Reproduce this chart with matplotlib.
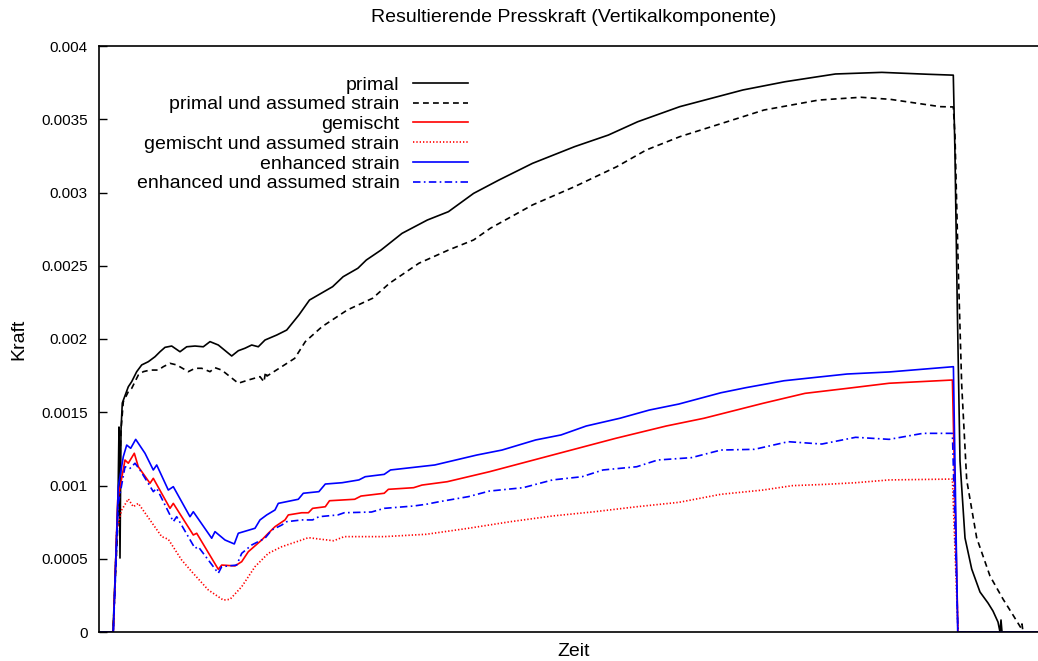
import numpy as np
import matplotlib
matplotlib.use("Agg")
import matplotlib.pyplot as plt
import matplotlib.ticker as ticker

plt.rcParams['font.family'] = ['Liberation Sans', 'DejaVu Sans']
plt.rcParams['font.size'] = 11

# Zeit in Zeitschritten, Kraft in N (Vertikalkomponente)
t_primal = [0, 14, 19, 20, 21, 22, 23.3, 29.3, 32.7, 37.7, 42.7, 49.3, 56, 61, 66, 72.7, 81, 87.7, 96,
            104.3, 111, 119.3, 132.7, 139.3, 146, 152.7, 159.3, 166, 177.7, 187.7, 199.9, 210.5, 233.6,
            244.1, 258.9, 267.3, 282, 303, 328.3, 349.4, 374.6, 399.9, 433.5, 475.6, 509.3, 538.7, 580.8,
            644, 686, 736.5, 782.8, 829.1, 854.3, 856, 858.3, 861, 866, 872.7, 881, 889, 894, 899, 901,
            902, 903, 950]
f_primal = [0, 0, 0.000901, 0.001399, 0.000505, 0.001379, 0.001563, 0.001674, 0.001709, 0.001777,
            0.001823, 0.001845, 0.001879, 0.001913, 0.001943, 0.001952, 0.001913, 0.001947, 0.001952,
            0.001947, 0.001982, 0.001959, 0.001884, 0.001920, 0.001937, 0.001959, 0.001947, 0.001993,
            0.002027, 0.002061, 0.002164, 0.002266, 0.002357, 0.002425, 0.002483, 0.002539, 0.002607,
            0.002721, 0.002812, 0.002869, 0.002994, 0.003085, 0.003199, 0.003313, 0.003392, 0.003483,
            0.003586, 0.003700, 0.003756, 0.003809, 0.003820, 0.003807, 0.003801, 0.003256, 0.002212,
            0.001167, 0.000642, 0.000430, 0.000273, 0.000198, 0.000143, 0.000068, 0, 0.000082, 0, 0]

t_primal_as = [0, 14, 19, 22, 24.3, 29.3, 32.7, 39.3, 44.3, 51, 59.3, 64.3, 71, 77.7, 89.3, 96, 102.7,
               111, 116, 122.7, 139.3, 149.3, 161, 165, 166.5, 168, 182.7, 195.7, 206.3, 223, 248.3,
               273.6, 290.4, 319.9, 349.4, 374.6, 391.4, 433.5, 475.6, 517.7, 547.2, 580.8, 622.9, 665,
               719.7, 761.8, 791.3, 841, 854.3, 856, 859.3, 862.7, 867.7, 877.7, 891, 904, 914, 922,
               923, 924, 950]
f_primal_as = [0, 0, 0.000765, 0.001379, 0.001572, 0.001640, 0.001663, 0.001754, 0.001777, 0.001788,
               0.001788, 0.001811, 0.001834, 0.001823, 0.001777, 0.001800, 0.001800, 0.001777, 0.001804,
               0.001788, 0.001698, 0.001720, 0.001743, 0.001707, 0.001775, 0.001747, 0.001811, 0.001868,
               0.001982, 0.002084, 0.002198, 0.002278, 0.002380, 0.002517, 0.002607, 0.002676, 0.002756,
               0.002915, 0.003040, 0.003176, 0.003290, 0.003381, 0.003472, 0.003563, 0.003631, 0.003650,
               0.003636, 0.003586, 0.003584, 0.003386, 0.002471, 0.001686, 0.001038, 0.000642, 0.000382,
               0.000225, 0.000116, 0.000027, 0.000055, 0, 0]

t_gemischt = [0, 14.3, 18.7, 26, 29.3, 35.3, 39.3, 51, 54.3, 71, 74.3, 94.3, 97.7, 119.3, 122.7, 136,
              142.7, 149.3, 162.7, 169.3, 176, 186, 189.3, 202.7, 209.4, 213.6, 226.3, 230.5, 255.7, 262,
              285.2, 289.4, 314.6, 323, 348.3, 390.4, 453.5, 516.7, 567.2, 605, 664, 706, 748.1, 790.2,
              853.4, 859, 950]
f_gemischt = [0, 0, 0.000901, 0.001174, 0.001152, 0.001220, 0.001128, 0.001015, 0.001049, 0.000844,
              0.000878, 0.000662, 0.000674, 0.000428, 0.000457, 0.000451, 0.000480, 0.000548, 0.000628,
              0.000674, 0.000719, 0.000765, 0.000799, 0.000814, 0.000814, 0.000844, 0.000855, 0.000896,
              0.000906, 0.000928, 0.000947, 0.000974, 0.000985, 0.001003, 0.001026, 0.001094, 0.001208,
              0.001322, 0.001406, 0.001459, 0.001561, 0.001629, 0.001663, 0.001698, 0.001720, 0, 0]

t_gemischt_as = [0, 14.3, 17.7, 22.7, 29.3, 34.3, 39.3, 62.7, 69.3, 82.7, 92.7, 109.3, 124.3, 131,
                 142.7, 156, 169.3, 182.7, 202.7, 209.4, 222, 234.7, 245.2, 285.2, 327.3, 369.4, 411.4,
                 453.5, 495.6, 537.7, 579.8, 621.9, 664, 693.4, 727.1, 756.6, 790.2, 853.4, 859, 950]
f_gemischt_as = [0, 0, 0.000696, 0.000833, 0.000908, 0.000855, 0.000878, 0.000651, 0.000633, 0.000491,
                 0.000412, 0.000287, 0.000218, 0.000223, 0.000309, 0.000446, 0.000537, 0.000582,
                 0.000628, 0.000644, 0.000633, 0.000623, 0.000651, 0.000651, 0.000667, 0.000708,
                 0.000753, 0.000792, 0.000821, 0.000855, 0.000885, 0.000940, 0.000969, 0.000999,
                 0.001008, 0.001019, 0.001038, 0.001044, 0, 0]

t_enhanced = [0, 14.3, 19.3, 24.3, 27.7, 31.7, 36.7, 46, 54.3, 57.7, 69.3, 74.3, 91, 94.3, 112.7, 116,
              126, 135.3, 139.3, 156, 161, 167.7, 176, 179.3, 199.3, 204.3, 219.9, 226.3, 243.1, 259.9,
              266.2, 285.2, 291.5, 335.7, 377.8, 403, 436.7, 462, 487.2, 520.9, 550.3, 579.8, 621.9,
              647.1, 685, 748.1, 790.2, 854.4, 858.7, 950]
f_enhanced = [0, 0, 0.000992, 0.001197, 0.001276, 0.001254, 0.001315, 0.001220, 0.001106, 0.001140,
              0.000969, 0.000992, 0.000787, 0.000821, 0.000640, 0.000685, 0.000628, 0.000601, 0.000674,
              0.000708, 0.000765, 0.000799, 0.000833, 0.000878, 0.000906, 0.000947, 0.000958, 0.001010,
              0.001019, 0.001038, 0.001060, 0.001076, 0.001106, 0.001140, 0.001208, 0.001242, 0.001311,
              0.001345, 0.001406, 0.001459, 0.001515, 0.001556, 0.001633, 0.001668, 0.001715, 0.001761,
              0.001775, 0.001811, 0, 0]

t_enhanced_as = [0, 14.3, 19.3, 26, 31, 36, 41, 54.3, 57.7, 74.3, 77.7, 96, 99.3, 119.3, 122.7, 137.7,
                 142.7, 152.7, 166, 172.7, 182.7, 187.7, 202.7, 213.6, 219.9, 238.9, 245.2, 272.5, 285.2,
                 314.6, 327.3, 339.9, 369.4, 390.4, 424.1, 453.5, 483, 504, 537.7, 558.7, 592.4, 621.9,
                 655.5, 689.2, 722.9, 756.6, 790.2, 823.9, 853.4, 859, 950]
f_enhanced_as = [0, 0, 0.000878, 0.001128, 0.001117, 0.001152, 0.001106, 0.000958, 0.000981, 0.000753,
                 0.000787, 0.000571, 0.000582, 0.000401, 0.000446, 0.000457, 0.000537, 0.000594,
                 0.000640, 0.000696, 0.000730, 0.000753, 0.000765, 0.000765, 0.000787, 0.000799,
                 0.000814, 0.000819, 0.000844, 0.000860, 0.000872, 0.000889, 0.000924, 0.000962,
                 0.000985, 0.001038, 0.001060, 0.001106, 0.001128, 0.001174, 0.001190, 0.001242,
                 0.001247, 0.001299, 0.001283, 0.001329, 0.001315, 0.001356, 0.001356, 0, 0]

labels = ["primal", "primal und assumed strain", "gemischt", "gemischt und assumed strain",
          "enhanced strain", "enhanced und assumed strain"]

fig = plt.figure(figsize=(10.38, 6.61), dpi=100)
ax = fig.add_axes([99 / 1038, 29 / 661, 950 / 1038, 586 / 661])

lw = 1.2
ax.plot(t_primal, f_primal, color='black', lw=lw, label=labels[0])
ax.plot(t_primal_as, f_primal_as, color='black', lw=lw, dashes=(3.5, 2.5), label=labels[1])
ax.plot(t_gemischt, f_gemischt, color='red', lw=lw, label=labels[2])
ax.plot(t_gemischt_as, f_gemischt_as, color='red', lw=lw, dashes=(0.8, 1.2), label=labels[3])
ax.plot(t_enhanced, f_enhanced, color='blue', lw=lw, label=labels[4])
ax.plot(t_enhanced_as, f_enhanced_as, color='blue', lw=lw, dashes=(4.5, 2, 1, 2), label=labels[5])

ax.set_xlim(0, 950)
ax.set_ylim(0, 0.004)
ax.set_xticks([])
ax.yaxis.set_major_locator(ticker.MultipleLocator(0.0005))
ax.yaxis.set_major_formatter(ticker.FuncFormatter(lambda v, p: "%g" % round(v, 6)))
ax.tick_params(axis='y', direction='in', length=6, width=1, pad=8, right=False, labelsize=11)
for s in ax.spines.values():
    s.set_linewidth(1.2)

fig.text(574 / 1038, 1 - 18 / 661, "Resultierende Presskraft (Vertikalkomponente)",
         ha='center', va='center', fontsize=14)
fig.text(574 / 1038, 1 - 651 / 661, "Zeit", ha='center', va='center', fontsize=14)
fig.text(19 / 1038, 1 - 339 / 661, "Kraft", ha='center', va='center', rotation=90, fontsize=14)

ax.legend(loc='upper right', bbox_to_anchor=(468 / 1038, 1 - 76 / 661),
          bbox_transform=fig.transFigure, frameon=False, markerfirst=False,
          handlelength=2.85, handletextpad=0.67, labelspacing=0.11, borderpad=0,
          borderaxespad=0, fontsize=14)

fig.savefig("out.png", dpi=100)
